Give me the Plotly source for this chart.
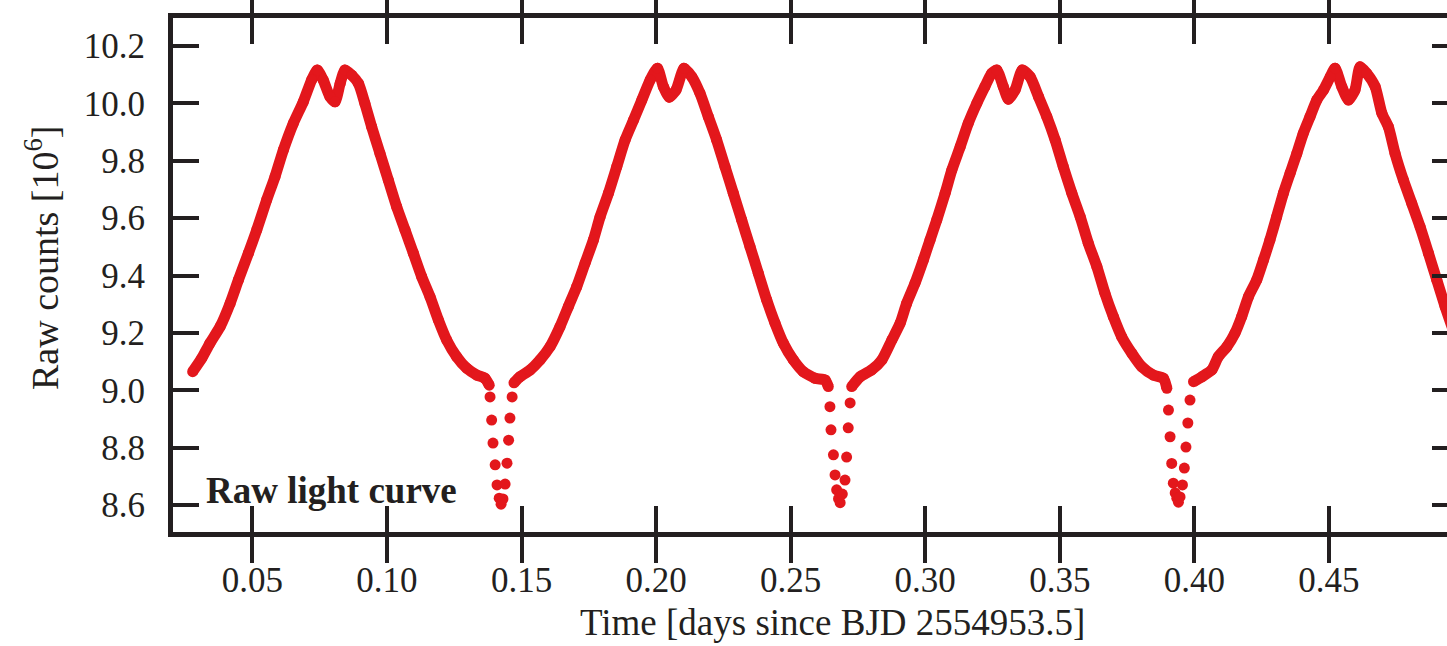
import plotly.graph_objects as go

# ---- data (time in days, raw counts in 10^6) ----
t1 = [0.0278, 0.0312, 0.0342, 0.0380, 0.0417, 0.0448, 0.0485, 0.0516, 0.0553, 0.0584,
      0.0615, 0.0652, 0.0689, 0.0720, 0.0741, 0.0763, 0.0788, 0.0807, 0.0826, 0.0844,
      0.0869, 0.0894, 0.0918, 0.0943, 0.0974, 0.1005, 0.1036, 0.1067, 0.1098, 0.1129,
      0.1160, 0.1191, 0.1222, 0.1259, 0.1296, 0.1334, 0.1364, 0.1380]
v1 = [9.065, 9.112, 9.164, 9.222, 9.303, 9.385, 9.478, 9.559, 9.664, 9.745,
      9.838, 9.931, 10.006, 10.082, 10.117, 10.082, 10.024, 10.006, 10.070, 10.117,
      10.099, 10.070, 10.000, 9.919, 9.826, 9.733, 9.640, 9.559, 9.478, 9.396,
      9.326, 9.245, 9.175, 9.117, 9.077, 9.053, 9.042, 9.018]

t2 = [0.1472, 0.1494, 0.1532, 0.1569, 0.1606, 0.1643, 0.1674, 0.1705, 0.1736, 0.1767,
      0.1792, 0.1823, 0.1854, 0.1885, 0.1916, 0.1947, 0.1978, 0.2005, 0.2027, 0.2049,
      0.2074, 0.2104, 0.2133, 0.2163, 0.2194, 0.2225, 0.2256, 0.2287, 0.2318, 0.2349,
      0.2380, 0.2411, 0.2442, 0.2473, 0.2510, 0.2547, 0.2591, 0.2628, 0.2640]
v2 = [9.026, 9.047, 9.071, 9.106, 9.152, 9.222, 9.292, 9.361, 9.443, 9.524,
      9.605, 9.687, 9.780, 9.873, 9.942, 10.012, 10.082, 10.123, 10.059, 10.022,
      10.047, 10.123, 10.093, 10.036, 9.954, 9.873, 9.780, 9.687, 9.594, 9.501,
      9.408, 9.315, 9.234, 9.164, 9.106, 9.065, 9.042, 9.036, 9.013]

t3 = [0.2727, 0.2758, 0.2801, 0.2839, 0.2876, 0.2907, 0.2931, 0.2962, 0.2993, 0.3018,
      0.3043, 0.3074, 0.3099, 0.3130, 0.3160, 0.3192, 0.3222, 0.3247, 0.3266, 0.3290,
      0.3309, 0.3334, 0.3361, 0.3390, 0.3421, 0.3452, 0.3483, 0.3513, 0.3545, 0.3576,
      0.3606, 0.3638, 0.3668, 0.3699, 0.3730, 0.3768, 0.3805, 0.3848, 0.3885, 0.3898]
v3 = [9.013, 9.047, 9.071, 9.106, 9.175, 9.234, 9.303, 9.373, 9.454, 9.524,
      9.594, 9.687, 9.768, 9.849, 9.931, 10.001, 10.059, 10.105, 10.117, 10.059,
      10.015, 10.047, 10.117, 10.093, 10.024, 9.954, 9.873, 9.780, 9.687, 9.605,
      9.513, 9.431, 9.338, 9.257, 9.187, 9.129, 9.082, 9.053, 9.042, 9.007]

t4 = [0.3997, 0.4028, 0.4065, 0.4089, 0.4121, 0.4151, 0.4176, 0.4201, 0.4232, 0.4257,
      0.4281, 0.4306, 0.4331, 0.4356, 0.4381, 0.4405, 0.4430, 0.4455, 0.4480, 0.4505,
      0.4523, 0.4548, 0.4573, 0.4597, 0.4616, 0.4641, 0.4672, 0.4697, 0.4721, 0.4746,
      0.4777, 0.4808, 0.4839, 0.4870, 0.4901, 0.4932, 0.4960]
v4 = [9.030, 9.047, 9.071, 9.117, 9.152, 9.199, 9.257, 9.326, 9.385, 9.454,
      9.524, 9.605, 9.687, 9.757, 9.826, 9.896, 9.954, 10.012, 10.047, 10.093,
      10.123, 10.059, 10.012, 10.047, 10.128, 10.105, 10.059, 9.966, 9.919, 9.826,
      9.733, 9.652, 9.570, 9.478, 9.385, 9.292, 9.215]

# eclipse points
te1 = [0.1383, 0.1389, 0.1394, 0.1402, 0.1409, 0.1417, 0.1424, 0.1431, 0.1439, 0.1446,
       0.1452, 0.1457, 0.1465]
ve1 = [8.977, 8.896, 8.816, 8.740, 8.670, 8.624, 8.603, 8.621, 8.673, 8.746,
       8.826, 8.903, 8.977]
te2 = [0.2646, 0.2650, 0.2659, 0.2665, 0.2671, 0.2678, 0.2684, 0.2692, 0.2702, 0.2708,
       0.2714, 0.2721]
ve2 = [8.943, 8.862, 8.775, 8.705, 8.653, 8.622, 8.608, 8.638, 8.687, 8.767,
       8.869, 8.956]
te3 = [0.3904, 0.3910, 0.3916, 0.3922, 0.3929, 0.3935, 0.3941, 0.3947, 0.3956, 0.3963,
       0.3969, 0.3976, 0.3984]
ve3 = [8.931, 8.838, 8.745, 8.676, 8.642, 8.624, 8.610, 8.628, 8.670, 8.729,
       8.802, 8.886, 8.966]

x_ticks = [0.05, 0.10, 0.15, 0.20, 0.25, 0.30, 0.35, 0.40, 0.45]
y_ticks = [8.6, 8.8, 9.0, 9.2, 9.4, 9.6, 9.8, 10.0, 10.2]

RED = "#e3171c"
INK = "#231f20"
FONT = "Liberation Serif"

curve_t = t1 + [None] + t2 + [None] + t3 + [None] + t4
curve_v = v1 + [None] + v2 + [None] + v3 + [None] + v4
ecl_t = te1 + te2 + te3
ecl_v = ve1 + ve2 + ve3

fig = go.Figure()
fig.add_trace(go.Scatter(x=curve_t, y=curve_v, mode="lines+markers",
                         line=dict(color=RED, width=11, shape="spline", smoothing=0.6),
                         marker=dict(color=RED, size=11),
                         connectgaps=False, showlegend=False, hoverinfo="skip"))
fig.add_trace(go.Scatter(x=ecl_t, y=ecl_v, mode="markers",
                         marker=dict(color=RED, size=11),
                         showlegend=False, hoverinfo="skip"))
# right-hand ticks (frame continues past the image edge)
fig.add_trace(go.Scatter(x=[None], y=[None], yaxis="y2", showlegend=False, hoverinfo="skip"))

X_RANGE = [0.02049, 0.4939]
Y_RANGE = [8.5059, 10.2981]

fig.update_layout(
    width=1447, height=646,
    margin=dict(l=173, r=0, t=18, b=114, pad=0),
    paper_bgcolor="white", plot_bgcolor="white",
    font=dict(family=FONT, size=35, color=INK),
    xaxis=dict(range=X_RANGE, tickvals=x_ticks, ticktext=[f"{v:.2f}" for v in x_ticks],
               ticks="inside", ticklen=26, tickwidth=4, tickcolor=INK,
               showline=True, linewidth=5, linecolor=INK, mirror="allticks",
               showgrid=False, zeroline=False, ticklabelstandoff=13,
               tickfont=dict(family=FONT, size=35, color=INK)),
    yaxis=dict(range=Y_RANGE, tickvals=y_ticks, ticktext=[f"{v:.1f}" for v in y_ticks],
               ticks="inside", ticklen=26, tickwidth=4, tickcolor=INK,
               showline=True, linewidth=5, linecolor=INK, mirror=False,
               showgrid=False, zeroline=False, ticklabelstandoff=16,
               tickfont=dict(family=FONT, size=35, color=INK)),
    yaxis2=dict(range=Y_RANGE, overlaying="y", side="right", tickvals=y_ticks,
                ticks="inside", ticklen=15, tickwidth=4, tickcolor=INK,
                showticklabels=False, showline=False, showgrid=False, zeroline=False),
    annotations=[
        dict(text="Raw counts [10<sup>6</sup>]", textangle=-90, xref="paper", yref="paper",
             x=(42 - 173) / 1274, y=(532 - 258) / 514, xanchor="center", yanchor="middle",
             showarrow=False, font=dict(family=FONT, size=38, color=INK)),
        dict(text="Time [days since BJD 2554953.5]", xref="paper", yref="paper",
             x=(578 - 173) / 1274, y=(532 - 622) / 514, xanchor="left", yanchor="middle",
             showarrow=False, font=dict(family=FONT, size=37, color=INK)),
        dict(text="<b>Raw light curve</b>", xref="paper", yref="paper",
             x=(204 - 173) / 1274, y=(532 - 490) / 514, xanchor="left", yanchor="middle",
             showarrow=False, font=dict(family=FONT, size=37, color=INK)),
    ],
)

fig.write_html("out.html")
